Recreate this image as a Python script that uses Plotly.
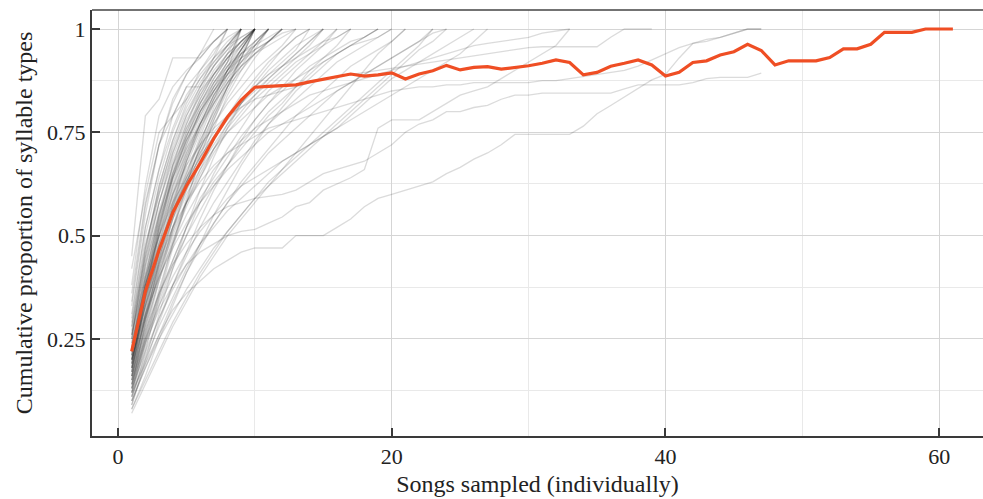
import plotly.graph_objects as go

# ---------------- data ----------------
songs_mean = list(range(1, 62))
mean_curve = [0.22, 0.365, 0.465, 0.555, 0.62, 0.675, 0.735, 0.787, 0.828, 0.859,
              0.861, 0.863, 0.865, 0.872, 0.878, 0.884, 0.891, 0.886, 0.889, 0.894,
              0.879, 0.891, 0.899, 0.912, 0.901, 0.907, 0.909, 0.903, 0.907, 0.911,
              0.917, 0.925, 0.919, 0.889, 0.895, 0.910, 0.917, 0.925, 0.913, 0.886,
              0.895, 0.919, 0.923, 0.937, 0.945, 0.963, 0.948, 0.913, 0.923, 0.923,
              0.923, 0.931, 0.952, 0.952, 0.963, 0.992, 0.992, 0.992, 1.0, 1.0, 1.0]

fast_birds = [
    [0.45, 0.79, 0.83, 0.93, 0.93, 0.93, 0.97, 1.0],
    [0.38, 0.62, 0.79, 0.86, 0.90, 0.93, 0.97, 1.0],
    [0.33, 0.55, 0.72, 0.83, 0.89, 0.94, 1.0],
    [0.30, 0.52, 0.66, 0.79, 0.86, 0.90, 0.95, 0.98, 1.0],
    [0.36, 0.58, 0.72, 0.79, 0.86, 0.86, 0.93, 1.0],
    [0.28, 0.50, 0.64, 0.75, 0.83, 0.90, 0.94, 1.0],
    [0.42, 0.60, 0.75, 0.79, 0.83, 0.88, 0.92, 0.96, 1.0],
    [0.25, 0.46, 0.62, 0.73, 0.82, 0.88, 0.93, 0.97, 1.0],
    [0.34, 0.57, 0.72, 0.82, 0.89, 0.94, 0.97, 1.0],
    [0.31, 0.52, 0.66, 0.76, 0.84, 0.89, 0.93, 0.96, 1.0],
]

typical_birds = [
    [0.20, 0.38, 0.52, 0.63, 0.72, 0.80, 0.87, 0.92, 0.96, 1.0],
    [0.18, 0.33, 0.47, 0.58, 0.68, 0.76, 0.83, 0.90, 0.95, 1.0],
    [0.22, 0.40, 0.55, 0.66, 0.75, 0.82, 0.88, 0.93, 0.97, 1.0],
    [0.15, 0.30, 0.43, 0.55, 0.65, 0.74, 0.82, 0.89, 0.95, 1.0],
    [0.25, 0.44, 0.58, 0.69, 0.77, 0.84, 0.90, 0.94, 0.97, 1.0],
    [0.17, 0.32, 0.45, 0.57, 0.67, 0.75, 0.83, 0.90, 1.0],
    [0.21, 0.38, 0.50, 0.61, 0.71, 0.79, 0.86, 0.92, 1.0],
    [0.12, 0.26, 0.39, 0.51, 0.62, 0.72, 0.81, 0.88, 0.94, 1.0],
    [0.19, 0.35, 0.48, 0.60, 0.70, 0.78, 0.85, 0.91, 0.96, 1.0],
    [0.24, 0.42, 0.56, 0.67, 0.74, 0.81, 0.87, 0.92, 1.0],
    [0.14, 0.28, 0.42, 0.54, 0.64, 0.73, 0.80, 0.87, 0.93, 1.0],
    [0.27, 0.47, 0.61, 0.71, 0.79, 0.85, 0.89, 0.93, 0.96, 1.0],
    [0.16, 0.31, 0.44, 0.56, 0.66, 0.72, 0.79, 0.86, 0.93, 1.0],
    [0.23, 0.39, 0.53, 0.64, 0.73, 0.80, 0.85, 0.90, 0.95, 1.0],
    [0.10, 0.22, 0.35, 0.47, 0.58, 0.69, 0.78, 0.86, 0.93, 1.0],
    [0.18, 0.36, 0.50, 0.62, 0.72, 0.80, 0.86, 0.91, 0.95, 1.0],
    [0.29, 0.48, 0.60, 0.70, 0.78, 0.84, 0.89, 0.93, 0.97, 1.0],
    [0.13, 0.27, 0.40, 0.52, 0.63, 0.71, 0.79, 0.86, 0.92, 0.97, 1.0],
    [0.20, 0.36, 0.49, 0.60, 0.69, 0.77, 0.84, 0.89, 0.94, 0.97, 1.0],
    [0.16, 0.30, 0.43, 0.54, 0.63, 0.71, 0.78, 0.85, 0.91, 0.96, 1.0],
    [0.22, 0.37, 0.51, 0.62, 0.70, 0.77, 0.83, 0.88, 0.92, 0.96, 1.0],
    [0.11, 0.24, 0.36, 0.48, 0.59, 0.68, 0.76, 0.84, 0.90, 0.95, 1.0],
    [0.26, 0.43, 0.55, 0.65, 0.73, 0.79, 0.85, 0.90, 0.94, 0.97, 1.0],
    [0.19, 0.33, 0.46, 0.57, 0.65, 0.73, 0.80, 0.86, 0.90, 0.94, 0.97, 1.0],
    [0.14, 0.29, 0.41, 0.52, 0.61, 0.70, 0.77, 0.83, 0.88, 0.93, 0.97, 1.0],
    [0.19, 0.37, 0.52, 0.64, 0.73, 0.80, 0.85, 0.89, 0.92, 0.95, 0.97, 1.0],
    [0.23, 0.41, 0.54, 0.64, 0.71, 0.77, 0.82, 0.87, 0.91, 0.94, 0.97, 1.0],
    [0.15, 0.31, 0.46, 0.58, 0.68, 0.76, 0.82, 0.87, 0.91, 0.94, 0.96, 0.98, 1.0],
    [0.21, 0.39, 0.53, 0.65, 0.74, 0.81, 0.86, 0.90, 0.93, 0.95, 0.97, 0.99, 1.0],
    [0.17, 0.34, 0.48, 0.59, 0.69, 0.77, 0.84, 0.89, 0.93, 0.96, 1.0],
    [0.28, 0.45, 0.58, 0.68, 0.76, 0.82, 0.87, 0.91, 0.94, 0.96, 0.98, 1.0],
    [0.12, 0.25, 0.37, 0.48, 0.58, 0.66, 0.73, 0.79, 0.84, 0.88, 0.92, 0.95, 0.98, 1.0],
    [0.20, 0.34, 0.46, 0.56, 0.64, 0.71, 0.77, 0.82, 0.86, 0.90, 0.93, 0.96, 1.0],
    [0.25, 0.45, 0.60, 0.72, 0.80, 0.86, 0.91, 0.95, 1.0],
    [0.18, 0.38, 0.54, 0.67, 0.77, 0.85, 0.91, 0.96, 1.0],
    [0.22, 0.43, 0.58, 0.70, 0.79, 0.86, 0.91, 0.95, 0.98, 1.0],
    [0.16, 0.35, 0.51, 0.64, 0.74, 0.82, 0.88, 0.93, 0.97, 1.0],
    [0.26, 0.47, 0.62, 0.73, 0.81, 0.87, 0.92, 0.96, 0.98, 1.0],
    [0.13, 0.29, 0.44, 0.57, 0.68, 0.77, 0.84, 0.90, 0.95, 1.0],
    [0.09, 0.20, 0.31, 0.42, 0.52, 0.61, 0.69, 0.76, 0.82, 0.87, 0.91, 0.95, 0.98, 1.0],
    [0.19, 0.35, 0.47, 0.56, 0.63, 0.69, 0.74, 0.78, 0.82, 0.86, 0.90, 0.93, 0.96, 0.98, 1.0],
    [0.21, 0.40, 0.55, 0.67, 0.76, 0.83, 0.89, 0.94, 0.97, 1.0],
    [0.17, 0.36, 0.52, 0.65, 0.75, 0.83, 0.89, 0.94, 1.0],
]

slow_birds = [
    [0.17, 0.30, 0.41, 0.50, 0.58, 0.65, 0.71, 0.76, 0.80, 0.84, 0.88, 0.91, 0.94, 0.97, 1.0],
    [0.12, 0.23, 0.33, 0.42, 0.50, 0.58, 0.65, 0.71, 0.76, 0.81, 0.85, 0.88, 0.91, 0.94, 0.97, 1.0],
    [0.21, 0.35, 0.45, 0.54, 0.61, 0.67, 0.72, 0.77, 0.81, 0.84, 0.87, 0.90, 0.93, 0.95, 0.97, 0.98, 1.0],
    [0.09, 0.19, 0.29, 0.38, 0.46, 0.54, 0.61, 0.67, 0.73, 0.78, 0.82, 0.86, 0.90, 0.93, 0.96, 1.0],
    [0.15, 0.26, 0.36, 0.44, 0.52, 0.59, 0.64, 0.69, 0.74, 0.78, 0.82, 0.85, 0.88, 0.91, 0.93, 0.95, 0.97, 0.98, 1.0],
    [0.24, 0.38, 0.48, 0.56, 0.63, 0.69, 0.74, 0.79, 0.83, 0.86, 0.89, 0.91, 0.93, 0.96, 1.0],
    [0.13, 0.24, 0.34, 0.43, 0.50, 0.56, 0.62, 0.67, 0.72, 0.76, 0.80, 0.83, 0.86, 0.89, 0.92, 0.94, 0.96, 0.98, 1.0],
    [0.18, 0.31, 0.42, 0.51, 0.58, 0.64, 0.70, 0.75, 0.79, 0.83, 0.86, 0.89, 0.92, 0.94, 0.96, 0.98, 1.0],
    [0.08, 0.16, 0.25, 0.33, 0.41, 0.48, 0.55, 0.61, 0.67, 0.72, 0.77, 0.81, 0.85, 0.88, 0.91, 0.94, 0.96, 0.98, 1.0],
    [0.20, 0.33, 0.43, 0.52, 0.60, 0.66, 0.71, 0.75, 0.78, 0.81, 0.84, 0.86, 0.88, 0.90, 0.92, 0.94, 0.96, 0.97, 0.98, 1.0],
    [0.14, 0.25, 0.35, 0.44, 0.52, 0.58, 0.63, 0.67, 0.71, 0.75, 0.79, 0.82, 0.86, 0.90, 0.93, 0.96, 1.0],
    [0.26, 0.40, 0.50, 0.58, 0.64, 0.70, 0.75, 0.79, 0.82, 0.85, 0.88, 0.91, 0.94, 0.97, 1.0],
    [0.11, 0.21, 0.30, 0.38, 0.45, 0.52, 0.58, 0.63, 0.68, 0.73, 0.77, 0.80, 0.83, 0.86, 0.89, 0.92, 0.94, 0.96, 0.98, 1.0],
    [0.16, 0.28, 0.39, 0.49, 0.57, 0.64, 0.71, 0.77, 0.82, 0.86, 0.89, 0.92, 0.95, 1.0],
    [0.10, 0.18, 0.26, 0.34, 0.41, 0.47, 0.53, 0.58, 0.63, 0.67, 0.71, 0.75, 0.79, 0.82, 0.85, 0.88, 0.91, 0.93, 0.95, 0.97, 1.0],
    [0.13, 0.22, 0.30, 0.37, 0.43, 0.48, 0.52, 0.56, 0.59, 0.62, 0.65, 0.68, 0.70, 0.72, 0.74, 0.76, 0.78, 0.80, 0.82, 0.84, 0.86, 0.88, 0.90, 0.92, 0.94, 0.97, 1.0],
    [0.10, 0.18, 0.25, 0.31, 0.37, 0.42, 0.47, 0.51, 0.55, 0.59, 0.62, 0.65, 0.68, 0.71, 0.74, 0.77, 0.80, 0.83, 0.86, 0.89, 0.92, 0.95, 0.97, 1.0],
    [0.08, 0.15, 0.22, 0.29, 0.35, 0.41, 0.46, 0.51, 0.55, 0.59, 0.63, 0.66, 0.69, 0.72, 0.75, 0.78, 0.81, 0.84, 0.87, 0.90, 0.93, 0.96, 1.0],
    [0.15, 0.25, 0.33, 0.40, 0.46, 0.51, 0.55, 0.59, 0.62, 0.64, 0.66, 0.68, 0.70, 0.72, 0.74, 0.76, 0.79, 0.82, 0.85, 0.88, 0.90, 0.92, 0.94, 0.96, 0.98, 1.0],
    [0.11, 0.20, 0.28, 0.35, 0.42, 0.48, 0.53, 0.58, 0.62, 0.66, 0.70, 0.73, 0.76, 0.79, 0.82, 0.85, 0.87, 0.89, 0.91, 0.93, 0.95, 0.97, 0.99, 1.0],
    [0.20, 0.31, 0.40, 0.47, 0.53, 0.58, 0.62, 0.66, 0.69, 0.72, 0.75, 0.77, 0.79, 0.81, 0.83, 0.85, 0.87, 0.89, 0.91, 0.93, 0.95, 0.97, 1.0],
    [0.07, 0.14, 0.21, 0.28, 0.34, 0.40, 0.45, 0.50, 0.54, 0.58, 0.62, 0.66, 0.70, 0.74, 0.78, 0.82, 0.86, 0.90, 0.94, 0.97, 1.0],
]

long_birds = [
    [0.12, 0.19, 0.26, 0.32, 0.36, 0.39, 0.42, 0.44, 0.46, 0.47, 0.47, 0.47, 0.50, 0.50, 0.50,
     0.52, 0.54, 0.57, 0.59, 0.60, 0.61, 0.62, 0.63, 0.65, 0.665, 0.685, 0.70, 0.72, 0.745, 0.745,
     0.745, 0.745, 0.745, 0.765, 0.795, 0.815, 0.835, 0.855, 0.877, 0.89, 0.93, 0.965, 0.97, 0.98,
     0.99, 1.0, 1.0],
    [0.14, 0.24, 0.32, 0.38, 0.43, 0.46, 0.48, 0.50, 0.51, 0.515, 0.53, 0.545, 0.57, 0.58, 0.61,
     0.625, 0.64, 0.66, 0.76, 0.78, 0.78, 0.78, 0.80, 0.82, 0.84, 0.85, 0.86, 0.88, 0.90, 0.92,
     0.94, 0.96, 1.0],
    [0.16, 0.27, 0.36, 0.43, 0.48, 0.52, 0.55, 0.57, 0.58, 0.59, 0.595, 0.60, 0.61, 0.63, 0.65,
     0.66, 0.67, 0.68, 0.70, 0.72, 0.75, 0.77, 0.78, 0.80, 0.80, 0.81, 0.815, 0.83, 0.84, 0.84,
     0.845, 0.845, 0.845, 0.845, 0.845, 0.845, 0.855, 0.865, 0.865, 0.865, 0.865, 0.87, 0.88, 0.883,
     0.883, 0.883, 0.893],
    [0.20, 0.33, 0.44, 0.52, 0.58, 0.63, 0.67, 0.70, 0.72, 0.74, 0.76, 0.77, 0.78, 0.79, 0.80,
     0.81, 0.82, 0.83, 0.84, 0.85, 0.855, 0.86, 0.86, 0.865, 0.865, 0.87, 0.87, 0.87, 0.87, 0.87,
     0.875, 0.875, 0.88, 0.885, 0.89, 0.895, 0.90, 0.91, 0.925, 0.94, 0.955, 0.965, 0.975, 0.98,
     0.99, 1.0, 1.0],
    [0.22, 0.38, 0.50, 0.60, 0.67, 0.72, 0.76, 0.79, 0.81, 0.83, 0.84, 0.85, 0.86, 0.87, 0.88,
     0.885, 0.89, 0.895, 0.90, 0.905, 0.91, 0.915, 0.92, 0.925, 0.93, 0.935, 0.94, 0.945, 0.95,
     0.955, 0.957, 0.957, 0.957, 0.957, 0.957, 0.98, 1.0, 1.0, 1.0],
    [0.18, 0.30, 0.40, 0.48, 0.55, 0.61, 0.66, 0.70, 0.73, 0.76, 0.78, 0.80, 0.82, 0.84, 0.85,
     0.86, 0.87, 0.88, 0.89, 0.90, 0.91, 0.92, 0.93, 0.94, 0.95, 0.96, 0.965, 0.97, 0.975, 0.98,
     0.99, 0.995, 1.0],
]

x_tick_values = [0, 20, 40, 60]
y_tick_values = [0.25, 0.5, 0.75, 1]
x_title = "Songs sampled (individually)"
y_title = "Cumulative proportion of syllable types"

# ---------------- figure ----------------
SERIF = "Liberation Serif, DejaVu Serif, serif"
fig = go.Figure()

for group in (fast_birds, typical_birds, slow_birds, long_birds):
    for curve in group:
        fig.add_trace(go.Scatter(
            x=list(range(1, len(curve) + 1)), y=curve, mode="lines",
            line=dict(color="rgba(30,30,30,0.16)", width=1.3),
            hoverinfo="skip", showlegend=False))

fig.add_trace(go.Scatter(
    x=songs_mean, y=mean_curve, mode="lines",
    line=dict(color="#ef4e24", width=3.2), showlegend=False))

axis_common = dict(
    showgrid=True, gridcolor="#d5d5d5", gridwidth=1,
    zeroline=False, showline=True, linecolor="#3a3a3a", linewidth=2,
    ticks="inside", ticklen=8, tickwidth=1.5, tickcolor="#3a3a3a",
    tickfont=dict(family=SERIF, size=22, color="#222"),
)

fig.update_layout(
    width=983, height=499,
    margin=dict(l=92, r=0, t=10, b=63),
    paper_bgcolor="white", plot_bgcolor="white",
    xaxis=dict(
        range=[-1.9, 63.2], tickvals=x_tick_values,
        minor=dict(dtick=10, tick0=0, showgrid=True, gridcolor="#e9e9e9", ticks=""),
        title=dict(text=x_title, font=dict(family=SERIF, size=24, color="#222"), standoff=7),
        **axis_common),
    yaxis=dict(
        range=[0.015, 1.046], tickvals=y_tick_values,
        minor=dict(dtick=0.125, tick0=0, showgrid=True, gridcolor="#e9e9e9", ticks=""),
        title=dict(text=y_title, font=dict(family=SERIF, size=24, color="#222"), standoff=8),
        **axis_common),
    shapes=[dict(type="line", xref="paper", yref="paper", x0=0, x1=1, y0=1, y1=1,
                 line=dict(color="#444", width=1.5))],
)

fig.write_html("out.html", config={"displayModeBar": False},
               post_script="document.body.style.margin='0px';")
